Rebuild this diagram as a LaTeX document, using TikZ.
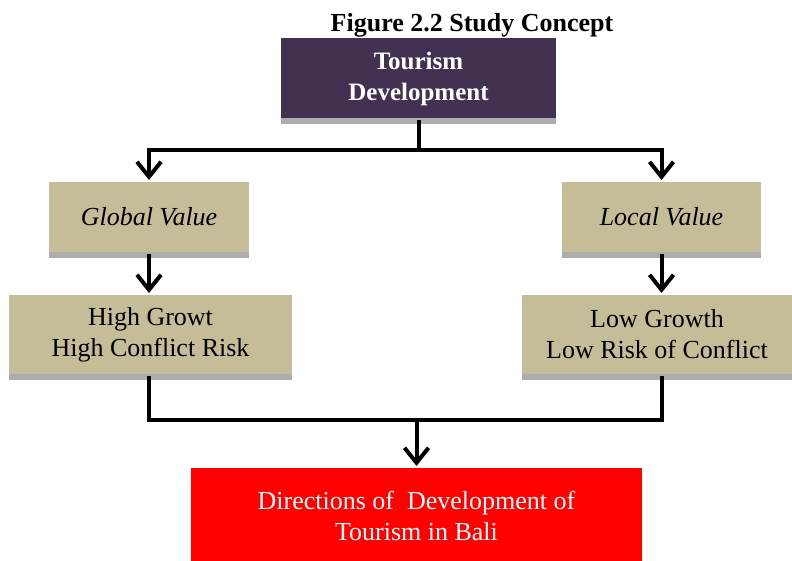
\documentclass[tikz,border=0pt]{standalone}
\usepackage{fontspec}
\setmainfont{Liberation Serif}
\usetikzlibrary{arrows.meta,shadows}
\definecolor{plum}{RGB}{67,49,82}
\definecolor{khaki}{RGB}{196,189,151}
\definecolor{shade}{RGB}{173,173,173}
\begin{document}
\begin{tikzpicture}[x=1pt,y=-1pt,line width=4pt,>={Straight Barb[length=15pt,width=24pt]},
	box/.style={fill=khaki,inner sep=0pt,align=center,font=\fontsize{26}{31}\selectfont,
		drop shadow={shadow xshift=0pt,shadow yshift=-6pt,fill=shade,opacity=1}}]
	\useasboundingbox (0,0) rectangle (792,561);
	\node[anchor=base,font=\bfseries\fontsize{26}{31}\selectfont] (title) at (472,32) {Figure 2.2 Study Concept};
	\node[box,fill=plum,text=white,font=\bfseries\fontsize{25}{31}\selectfont,minimum width=275pt,minimum height=80pt,text depth=4pt] (top) at (418.5,78) {Tourism\\Development};
	\node[box,minimum width=200pt,minimum height=70pt] (gv) at (149,217) {\textit{Global Value}};
	\node[box,minimum width=199pt,minimum height=70pt] (lv) at (661.5,217) {\textit{Local Value}};
	\node[box,minimum width=283pt,minimum height=79pt] (hg) at (150.5,334.5) {High Growt\\High Conflict Risk};
	\node[box,minimum width=270pt,minimum height=79pt] (lg) at (657,334.5) {Low Growth\\Low Risk of Conflict};
	\node[fill=red,text=white,inner sep=0pt,align=center,font=\fontsize{26}{31}\selectfont,minimum width=451pt,minimum height=96pt] (dir) at (416.5,516) {Directions of\ \ Development of\\Tourism in Bali};
	\coordinate (split) at (418.5,150);
	\coordinate (join) at (416.5,420);
	% connectors
	\draw (top.south) -- (split);
	\draw[->] (split) -| (gv.north);
	\draw[->] (split) -| (lv.north);
	\draw[->] (gv.south) -- (gv.south |- hg.north);
	\draw[->] (lv.south) -- (lv.south |- lg.north);
	\draw (hg.south -| gv.south) |- (join);
	\draw (lg.south -| lv.south) |- (join);
	\draw[->] (join) -- (dir.north);
\end{tikzpicture}
\end{document}
